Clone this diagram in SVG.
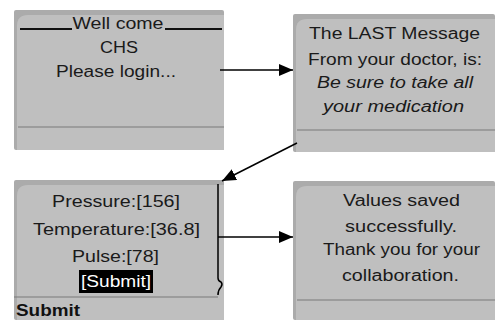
<svg xmlns="http://www.w3.org/2000/svg" width="495" height="320" viewBox="0 0 495 320">
<defs>
<marker id="ah" viewBox="0 0 14 12" refX="14" refY="6" markerWidth="14" markerHeight="12" markerUnits="userSpaceOnUse" orient="auto">
<path d="M0,0 L14,6 L0,12 Z" fill="#000"/>
</marker>
</defs>
<style>
.outer{fill:#ababab}
.inner{fill:#bfbfbf}
.sep{stroke:#7a7a7a;stroke-width:1.2}
.t{font-family:"Liberation Sans",Arial,sans-serif;font-size:16px;fill:#1a1a1a;text-anchor:middle}
.i{font-style:italic}
.conn{stroke:#000;stroke-width:1.5;fill:none}
</style>
<rect width="495" height="320" fill="#fff"/>
<g id="screen1">
<rect class="outer" x="14" y="10" width="210" height="140" rx="2"/>
<path class="inner" d="M17,150 V26 Q17,15 28,15 H224 V150 Z"/>
<line class="sep" x1="18" y1="127" x2="224" y2="127"/>
<line x1="20" y1="29" x2="72" y2="29" stroke="#111" stroke-width="2.2"/>
<line x1="165" y1="29" x2="222" y2="29" stroke="#111" stroke-width="2.2"/>
<text class="t" x="118" y="29" textLength="91" lengthAdjust="spacingAndGlyphs">Well come</text>
<text class="t" x="119" y="53" textLength="38" lengthAdjust="spacingAndGlyphs">CHS</text>
<text class="t" x="116" y="77" textLength="120" lengthAdjust="spacingAndGlyphs">Please login...</text>
</g>
<g id="screen2">
<rect class="outer" x="293" y="14" width="202" height="138" rx="2"/>
<path class="inner" d="M296,152 V30 Q296,19 307,19 H495 V152 Z"/>
<line class="sep" x1="297" y1="130" x2="495" y2="130"/>
<text class="t" x="394.5" y="39" textLength="171" lengthAdjust="spacingAndGlyphs">The LAST Message</text>
<text class="t" x="395" y="65" textLength="174" lengthAdjust="spacingAndGlyphs">From your doctor, is:</text>
<text class="t i" x="395" y="88" textLength="156" lengthAdjust="spacingAndGlyphs">Be sure to take all</text>
<text class="t i" x="393.5" y="112" textLength="141" lengthAdjust="spacingAndGlyphs">your medication</text>
</g>
<g id="screen3">
<rect class="outer" x="14" y="180" width="210" height="140" rx="2"/>
<path class="inner" d="M17,320 V196 Q17,185 28,185 H224 V320 Z"/>
<line class="sep" x1="14" y1="297" x2="218" y2="297"/>
<text class="t" x="116" y="207" textLength="128" lengthAdjust="spacingAndGlyphs">Pressure:[156]</text>
<text class="t" x="116.5" y="235" textLength="167" lengthAdjust="spacingAndGlyphs">Temperature:[36.8]</text>
<text class="t" x="115.5" y="262" textLength="87" lengthAdjust="spacingAndGlyphs">Pulse:[78]</text>
<rect x="79" y="270" width="74" height="23" fill="#000"/>
<text class="t" x="116" y="287" style="fill:#fff" textLength="70" lengthAdjust="spacingAndGlyphs">[Submit]</text>
<text x="16" y="316" font-family="Liberation Sans, Arial, sans-serif" font-size="16" font-weight="bold" fill="#111" textLength="64" lengthAdjust="spacingAndGlyphs">Submit</text>
</g>
<g id="screen4">
<rect class="outer" x="293" y="181" width="202" height="139" rx="2"/>
<path class="inner" d="M296,320 V197 Q296,186 307,186 H495 V320 Z"/>
<line class="sep" x1="297" y1="300" x2="495" y2="300"/>
<text class="t" x="401.5" y="206" textLength="117" lengthAdjust="spacingAndGlyphs">Values saved</text>
<text class="t" x="401" y="232" textLength="112" lengthAdjust="spacingAndGlyphs">successfully.</text>
<text class="t" x="401.5" y="255" textLength="157" lengthAdjust="spacingAndGlyphs">Thank you for your</text>
<text class="t" x="400.5" y="281" textLength="117" lengthAdjust="spacingAndGlyphs">collaboration.</text>
</g>
<g id="connectors">
<line class="conn" x1="220" y1="70" x2="293" y2="70" marker-end="url(#ah)"/>
<line class="conn" x1="297" y1="143" x2="222" y2="181" marker-end="url(#ah)"/>
<path class="conn" d="M218,184 V278 Q218,281 221,282 Q223,284 221,287 Q218,290 218,295"/>
<line class="conn" x1="218" y1="237" x2="293" y2="237" marker-end="url(#ah)"/>
</g>
</svg>
